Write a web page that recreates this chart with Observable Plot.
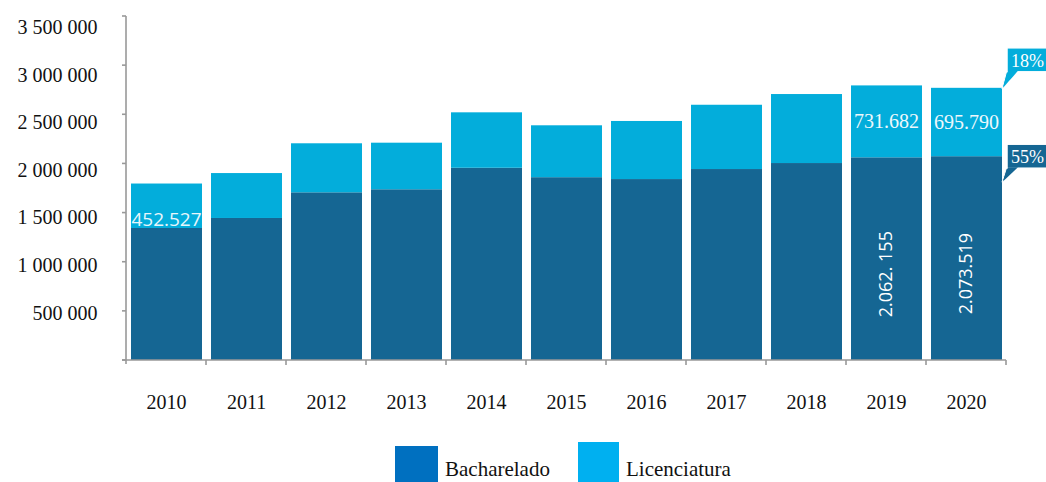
<!DOCTYPE html>
<html>
<head>
<meta charset="utf-8">
<script src="https://cdn.jsdelivr.net/npm/d3@7"></script>
<script src="https://cdn.jsdelivr.net/npm/@observablehq/plot@0.6"></script>
<style>
  body { margin: 0; background: #fff; font-family: 'Liberation Serif', serif; }
  #chart, #legend { width: 1046px; display: block; }
</style>
</head>
<body>
<div id="chart"></div>
<div id="legend"></div>
<script>
// ---- data ----
const years = ["2010","2011","2012","2013","2014","2015","2016","2017","2018","2019","2020"];
const bacharelado = [1343000, 1445000, 1706000, 1737000, 1956000, 1860000, 1841000, 1943000, 2004000, 2062155, 2073519];
const licenciatura = [452527, 457000, 499000, 474000, 564000, 528000, 591000, 654000, 702000, 731682, 695790];
const seriesNames = ["Bacharelado", "Licenciatura"];
const barColors = ["#156693", "#03ADDB"];
const legendColors = ["#0070C0", "#00B0F0"];
const yTicks = [0, 500000, 1000000, 1500000, 2000000, 2500000, 3000000, 3500000];
const yTickLabels = ["", "500 000", "1 000 000", "1 500 000", "2 000 000", "2 500 000", "3 000 000", "3 500 000"];
const bachLabels = ["", "", "", "", "", "", "", "", "", "2.062. 155", "2.073.519"];
const licLabels = ["452.527", "", "", "", "", "", "", "", "", "731.682", "695.790"];
const shareLabels = ["55%", "18%"]; // Bacharelado, Licenciatura (2020)

const SERIF = "'Liberation Serif', 'Times New Roman', serif";
const SANS = "'Open Sans', 'Noto Sans', sans-serif";

// ---- table ----
const rows = [];
years.forEach((yr, i) => {
  rows.push({year: yr, series: seriesNames[0], value: bacharelado[i]});
  rows.push({year: yr, series: seriesNames[1], value: licenciatura[i]});
});
const idx = d3.range(years.length);

// ---- custom decorations (axis lines, small ticks, share callouts) ----
function decorations(...args) {
  const scales = args.find(a => a && typeof a === "object" && !Array.isArray(a) && typeof a.x === "function" && typeof a.y === "function");
  const xs = scales.x, ys = scales.y;
  const bw = xs.bandwidth(), step = xs.step();
  const x0 = xs(years[0]);
  const g = d3.create("svg:g").attr("text-anchor", "start");
  const axisColor = "#999";
  const yBase = ys(0);
  g.append("line").attr("x1", x0).attr("x2", x0).attr("y1", ys(yTicks[yTicks.length-1])).attr("y2", yBase + 4)
    .attr("stroke", axisColor).attr("stroke-width", 1.6);
  g.append("line").attr("x1", x0 - 4).attr("x2", x0 + step * years.length).attr("y1", yBase).attr("y2", yBase)
    .attr("stroke", axisColor).attr("stroke-width", 1.6);
  yTicks.forEach(t => g.append("line").attr("x1", x0 - 4).attr("x2", x0).attr("y1", ys(t)).attr("y2", ys(t))
    .attr("stroke", axisColor).attr("stroke-width", 1.6));
  for (let i = 1; i <= years.length; i++) {
    const xb = x0 + i * step;
    g.append("line").attr("x1", xb).attr("x2", xb).attr("y1", yBase).attr("y2", yBase + 5)
      .attr("stroke", axisColor).attr("stroke-width", 1.6);
  }
  const last = years.length - 1;
  const bandRight = xs(years[last]) + bw;
  const tipX = bandRight - 4;
  const callouts = [
    {text: shareLabels[1], color: barColors[1], y: ys(bacharelado[last] + licenciatura[last]), top: -40, h: 24, tip: 1},
    {text: shareLabels[0], color: barColors[0], y: ys(bacharelado[last]), top: -12, h: 24, tip: 26}
  ];
  callouts.forEach(c => {
    const bx = bandRight + 1, by = c.y + c.top;
    g.append("polygon")
      .attr("points", [[bx, by + c.h - 2], [bx + 12, by + c.h - 2], [tipX, c.y + c.tip]].map(p => p.join(",")).join(" "))
      .attr("fill", c.color).attr("stroke", "#fff").attr("stroke-width", 1);
    g.append("rect").attr("x", bx).attr("y", by).attr("width", 44).attr("height", c.h)
      .attr("fill", c.color).attr("stroke", "#fff").attr("stroke-width", 1.5);
    g.append("polygon")
      .attr("points", [[bx + 1, by + c.h - 1], [bx + 11, by + c.h - 1], [tipX + 1, c.y + c.tip - 1]].map(p => p.join(",")).join(" "))
      .attr("fill", c.color);
    g.append("text").attr("x", bx + 4).attr("y", by + c.h - 5).text(c.text)
      .attr("text-anchor", "start")
      .attr("fill", "#fff").style("font-size", "18px").style("font-family", SERIF);
  });
  return g.node();
}

// y tick labels: one axis mark per tick so each label keeps the reference's slight offset
const yAxes = yTicks.slice(1).map((t, k) => Plot.axisY({
  ticks: [t], tickSize: 0, tickPadding: 28, dy: 2 + 1.5 * k,
  fontSize: 20, fontFamily: SERIF, fill: "#111",
  tickFormat: v => yTickLabels[yTicks.indexOf(v)]
}));

const chart = Plot.plot({
  width: 1046,
  height: 440,
  marginLeft: 125,
  marginRight: 39,
  marginTop: 16,
  marginBottom: 80,
  style: {fontFamily: SERIF, fontSize: "20px", color: "#111", background: "#fff"},
  x: {domain: years, padding: 0, label: null},
  y: {domain: [0, 3500000], label: null},
  color: {domain: seriesNames, range: barColors},
  marks: [
    Plot.barY(rows, {x: "year", y: "value", fill: "series", insetLeft: 5, insetRight: 4}),
    Plot.axisX({tickSize: 0, tickPadding: 34, fontSize: 20, fontFamily: SERIF, fill: "#111"}),
    ...yAxes,
    Plot.text(idx.filter(i => i === 0), {x: i => years[i], y: i => bacharelado[i], text: i => licLabels[i],
      dy: -9, fill: "#e8f6fb", fontFamily: SANS, fontSize: 19}),
    Plot.text(idx.filter(i => i > 0 && licLabels[i]), {x: i => years[i], y: i => bacharelado[i] + licenciatura[i] / 2,
      text: i => licLabels[i], fill: "#eef8fc", fontFamily: SERIF, fontSize: 20}),
    Plot.text(idx.filter(i => bachLabels[i]), {x: i => years[i], y: i => bacharelado[i] / 2, text: i => bachLabels[i],
      rotate: -90, dy: 15, fill: "#fff", fontFamily: SANS, fontSize: 18}),
    decorations
  ]
});
// make sure the serif value labels use the serif face
const serifLabels = licLabels.filter((t, i) => i > 0 && t);
d3.select(chart).selectAll("text")
  .filter(function() { return serifLabels.includes(this.textContent); })
  .style("font-family", SERIF).style("font-size", "20px");
document.getElementById("chart").append(chart);

// ---- legend (below the plot) ----
const lg = d3.select("#legend").append("svg").attr("width", 1046).attr("height", 42).style("display", "block");
const legendX = [395, 578];
const swatchW = [43, 41];
const swatchTop = [6, 2];
seriesNames.forEach((name, i) => {
  lg.append("rect").attr("x", legendX[i]).attr("y", swatchTop[i]).attr("width", swatchW[i]).attr("height", 44)
    .attr("fill", legendColors[i]);
  lg.append("text").attr("x", legendX[i] + swatchW[i] + 7).attr("y", 36).text(name)
    .style("font-family", SERIF).style("font-size", "21px").attr("fill", "#111");
});
</script>
</body>
</html>
